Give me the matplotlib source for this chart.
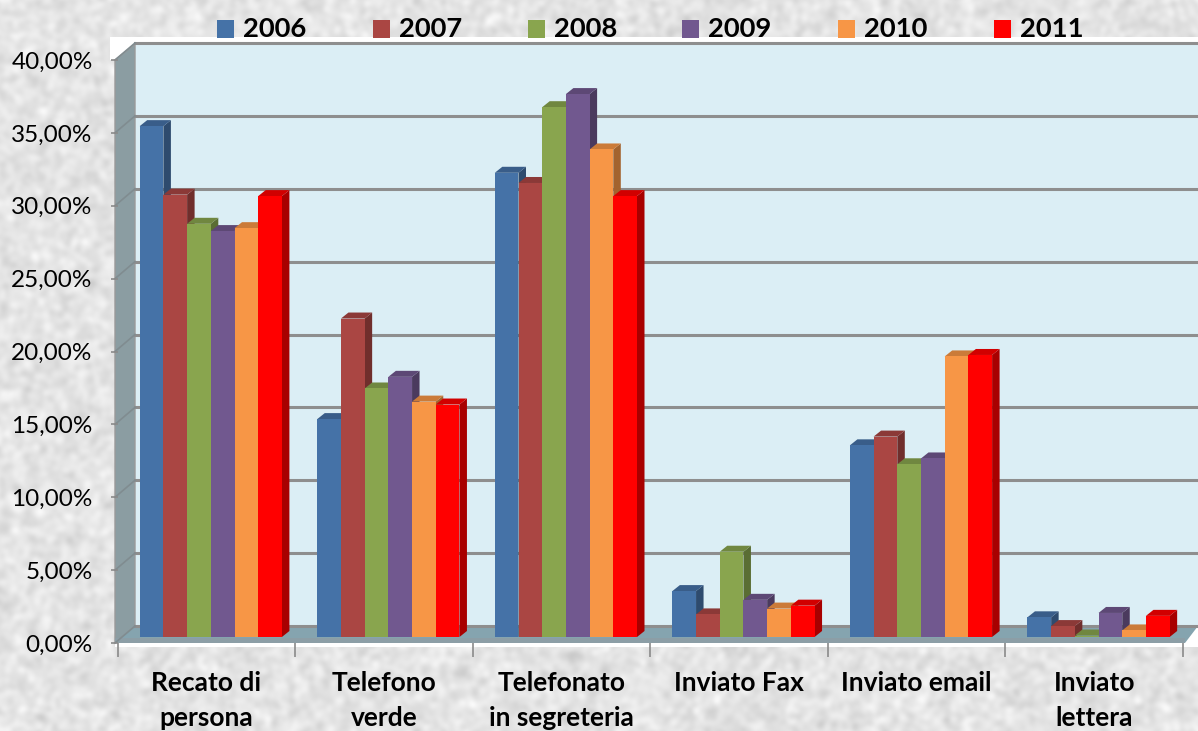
import numpy as np
import matplotlib
matplotlib.use('Agg')
import matplotlib.pyplot as plt
from matplotlib.colors import to_rgb
from matplotlib.ticker import FuncFormatter

plt.rcParams['font.family'] = ['Lato', 'DejaVu Sans']

W = 1198
H = 731

anni = ['2006', '2007', '2008', '2009', '2010', '2011']
colori = ['#4572a7', '#aa4643', '#89a54e', '#71588f', '#f79646', '#ff0000']
categorie = ['Recato di\npersona', 'Telefono\nverde', 'Telefonato\nin segreteria',
             'Inviato Fax', 'Inviato email', 'Inviato\nlettera']

v2006 = [35.05, 14.95, 31.85, 3.15, 13.15, 1.35]
v2007 = [30.35, 21.85, 31.15, 1.55, 13.75, 0.75]
v2008 = [28.35, 17.05, 36.35, 5.85, 11.85, 0.1]
v2009 = [27.85, 17.85, 37.25, 2.55, 12.25, 1.65]
v2010 = [28.05, 16.15, 33.45, 1.95, 19.25, 0.45]
v2011 = [30.25, 15.95, 30.25, 2.15, 19.35, 1.45]
serie = [v2006, v2007, v2008, v2009, v2010, v2011]

# axes box in pixels
X0, X1 = 117.7, 1183
Y0, Y40 = 643, 60
px_x = (X1 - X0) / 6.0
px_y = (Y0 - Y40) / 40.0


def dx(p):
	return p / px_x


def dy(p):
	return p / px_y


def scuro(c, f):
	r, g, b = to_rgb(c)
	return (r * f, g * f, b * f)


# mottled paper background (just texture, not data)
rng = np.random.default_rng(3)
noise = rng.normal(size=(H, W))
fx = np.fft.fftfreq(W)[None, :]
fy = np.fft.fftfreq(H)[:, None]
blur = np.exp(-(fx**2 + fy**2) * 2 * (np.pi * 3.0)**2)
tex = np.fft.ifft2(np.fft.fft2(noise) * blur).real
tex = tex / tex.std()
tex = np.clip(0.895 + 0.022 * tex, 0, 1)

fig = plt.figure(figsize=(W / 100, H / 100), dpi=100)
fig.figimage(np.dstack([tex, tex, tex]), 0, 0, zorder=-5, origin='upper')

ax = fig.add_axes([X0 / W, 1 - Y0 / H, (X1 - X0) / W, (Y0 - Y40) / H])
ax.patch.set_alpha(0)
ax.set_xlim(0, 6)
ax.set_ylim(0, 40)

xr = 6 + dx(W - X1)
xw0 = dx(135 - X0)
xf0 = dx(115 - X0)
yb = dy(17)

# white plate behind the 3d box
ax.fill([dx(110 - X0), xr, xr, dx(115 - X0), dx(115 - X0), dx(110 - X0)],
        [40 + dy(23), 40 + dy(23), dy(-4), dy(-4), 40, 40],
        color='white', clip_on=False, zorder=0, lw=0)

# back wall
ax.fill([xw0, xr, xr, xw0], [yb, yb, 40 + dy(16), 40 + dy(16)], color='#dbeef5',
        clip_on=False, zorder=1, lw=0)
# left wall
ax.fill([xf0, xw0, xw0, xf0], [0, yb, 40 + dy(16), 40], color='#8b9da2',
        ec='#9a9a9a', lw=1, clip_on=False, zorder=1)
# floor
xfr = dx(1185 - X0)
ax.fill([xf0, xw0, xr, xfr], [0, yb, yb, 0], color='#85a4af', clip_on=False, zorder=1, lw=0)
ax.fill([xf0, xfr, xfr, xf0], [0, 0, dy(5), dy(5)], color='#8c9ea6', clip_on=False, zorder=1.1, lw=0)

for g in np.arange(0, 45, 5):
	ax.plot([xw0, xr], [g + yb, g + yb], color='#8e8e8e', lw=2.2, clip_on=False, zorder=1.5)
	ax.plot([xf0, xw0], [g, g + yb], color='#808c90', lw=1.2, clip_on=False, zorder=1.5)

# bars
larg = 23.7 / px_x
start = 22.0 / px_x
base = dy(6)
sx = dx(7.5)
sy = dy(6)
for c in range(6):
	for i, s in enumerate(serie):
		col = colori[i]
		left = c + start + i * larg
		v = s[c]
		z = 2 + c + i * 0.1
		ax.bar(left, v, larg, bottom=base, align='edge', color=col, lw=0, zorder=z + 0.05, clip_on=False)
		right = left + larg
		top = base + v
		ax.fill([right, right + sx, right + sx, right],
		        [base, base + sy, top + sy, top],
		        color=scuro(col, 0.66), lw=0, zorder=z, clip_on=False)
		ax.fill([left, left + sx, right + sx, right],
		        [top, top + sy, top + sy, top],
		        color=scuro(col, 0.82), lw=0, zorder=z, clip_on=False)

for s in ax.spines.values():
	s.set_visible(False)

ax.yaxis.set_major_formatter(FuncFormatter(lambda v, p: ('%.2f' % v).replace('.', ',') + '%'))
ax.set_yticks(np.arange(0, 45, 5))
ax.tick_params(axis='y', length=5, width=1.2, color='#8a8a8a', labelsize=17.5, pad=13, left=True)

ax.set_xticks(np.arange(0, 7))
ax.set_xticklabels([])
ax.tick_params(axis='x', which='major', length=10, width=1.2, color='#8a8a8a')
ax.set_xticks(np.arange(0.5, 6, 1), minor=True)
ax.set_xticklabels(categorie, minor=True, fontweight='bold', fontsize=19, linespacing=1.55)
ax.tick_params(axis='x', which='minor', length=0, pad=20.5)

# legend
leg_x = [217, 373, 528, 682, 838, 994]
for a, col, lx in zip(anni, colori, leg_x):
	fig.patches.append(plt.Rectangle((lx / W, 1 - 38 / H), 17 / W, 18 / H, transform=fig.transFigure,
	                                 color=col, lw=0, zorder=10))
	fig.text((lx + 26) / W, 1 - 37 / H, a, fontsize=19.7, fontweight='bold', va='baseline', zorder=10)

fig.savefig('out.png', dpi=100)
